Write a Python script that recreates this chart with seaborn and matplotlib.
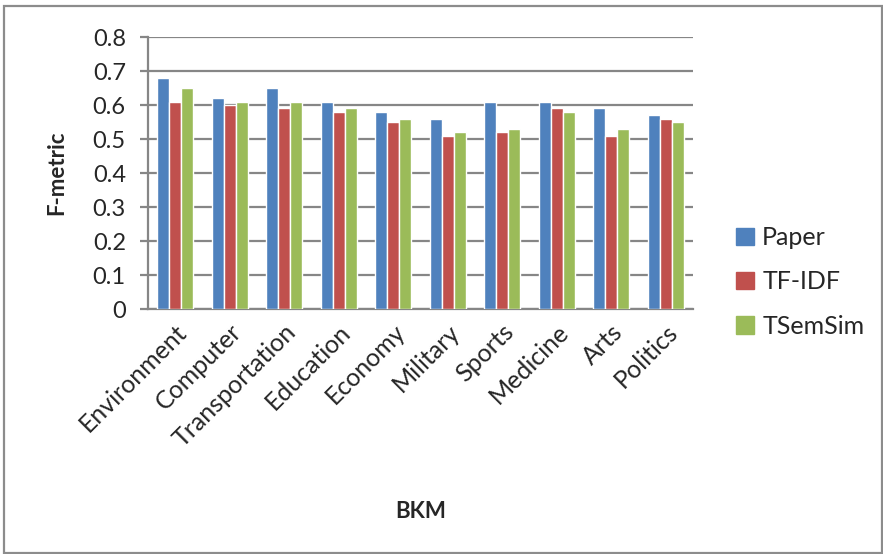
import matplotlib
matplotlib.use("Agg")
import matplotlib.pyplot as plt
import matplotlib.patches as mpatches
import pandas as pd
import seaborn as sns

categories = ["Environment", "Computer", "Transportation", "Education", "Economy",
              "Military", "Sports", "Medicine", "Arts", "Politics"]
paper = [0.68, 0.62, 0.65, 0.61, 0.58, 0.56, 0.61, 0.61, 0.59, 0.57]
tfidf = [0.61, 0.60, 0.59, 0.58, 0.55, 0.51, 0.52, 0.59, 0.51, 0.56]
tsemsim = [0.65, 0.61, 0.61, 0.59, 0.56, 0.52, 0.53, 0.58, 0.53, 0.55]
series_names = ["Paper", "TF-IDF", "TSemSim"]
colors = ["#4F81BD", "#C0504D", "#9BBB59"]
yticks = [0, 0.1, 0.2, 0.3, 0.4, 0.5, 0.6, 0.7, 0.8]

df = pd.DataFrame({
    "BKM": categories * 3,
    "F-metric": paper + tfidf + tsemsim,
    "Method": [s for s in series_names for _ in categories],
})

sns.set_theme(style="white")
plt.rcParams["font.family"] = ["Lato", "DejaVu Sans"]

fig = plt.figure(figsize=(8.83, 5.54), dpi=100)
ax = fig.add_axes([148 / 883, 1 - 309 / 554, (693 - 148) / 883, (309 - 37) / 554])

sns.barplot(data=df, x="BKM", y="F-metric", hue="Method", palette=colors,
            width=0.66, ax=ax, saturation=1, legend=False, zorder=3)

grid_color = "#868686"
ax.set_ylim(0, 0.8)
ax.set_xlim(-0.5, len(categories) - 0.5)
ax.set_yticks(yticks)
ax.set_yticklabels(["0" if v == 0 else f"{v:.1f}" for v in yticks])
ax.yaxis.grid(True, color=grid_color, linewidth=1.6, zorder=0)
ax.set_axisbelow(True)
for side in ["top", "right"]:
    ax.spines[side].set_visible(False)
ax.spines["left"].set_color(grid_color)
ax.spines["left"].set_linewidth(1.6)
ax.spines["bottom"].set_color(grid_color)
ax.spines["bottom"].set_linewidth(1.6)
ax.tick_params(axis="y", direction="out", length=6, width=1.6, color=grid_color,
               left=True, pad=10, labelsize=17)
ax.tick_params(axis="x", length=0, pad=8, labelsize=18)
plt.setp(ax.get_xticklabels(), rotation=45, ha="right", rotation_mode="anchor")

ax.set_ylabel("F-metric", fontsize=16, fontweight="bold")
ax.yaxis.set_label_coords((57 - 148) / (693 - 148), 0.5)
ax.set_xlabel("BKM", fontsize=16, fontweight="bold")
ax.xaxis.set_label_coords(0.5, (309 - 511) / (309 - 37))
ax.xaxis.label.set_va("center")
ax.yaxis.label.set_va("center")

handles = [mpatches.Patch(color=c, label=n) for c, n in zip(colors, series_names)]
fig.legend(handles=handles, loc="upper left", bbox_to_anchor=(716 / 883, 1 - 206 / 554),
           frameon=False, fontsize=18, handlelength=0.7, handleheight=0.7,
           handletextpad=0.35, labelspacing=0.85, borderpad=0.3)

fig.patches.append(mpatches.Rectangle((4 / 883, 0.002), 877.5 / 883, 1 - 6 / 554 - 0.002,
                                      transform=fig.transFigure, fill=False,
                                      edgecolor="#8C8C8C", linewidth=1.6))

fig.savefig("out.png", dpi=100, facecolor="white")
